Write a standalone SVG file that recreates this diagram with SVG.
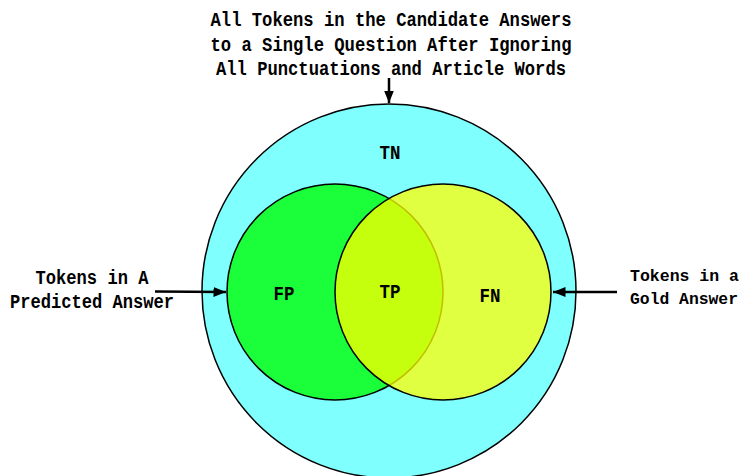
<svg xmlns="http://www.w3.org/2000/svg" width="745" height="476" viewBox="0 0 745 476">
<style>
text{font-family:"Liberation Mono","DejaVu Sans Mono",monospace;font-size:20px;font-weight:bold;fill:#000}
.r{font-size:17px}
.c{stroke:#000;stroke-width:1.5}
.l{stroke:#000;stroke-width:2.5;fill:none}
</style>
<defs>
<marker id="ah" viewBox="0 0 10 10" refX="10" refY="5" markerWidth="5" markerHeight="5" orient="auto" markerUnits="strokeWidth">
<path d="M0,1 L10,5 L0,9 Z" fill="#000"/>
</marker>
</defs>
<rect width="745" height="476" fill="#fff"/>
<g id="universe">
<circle class="c" cx="389" cy="291" r="187" fill="#80FFFF"/>
<text x="390" y="159" text-anchor="middle" textLength="21" lengthAdjust="spacingAndGlyphs">TN</text>
</g>
<g id="predicted">
<circle class="c" cx="335" cy="292" r="108" fill="#1AFF3A"/>
<text x="284" y="300" text-anchor="middle" textLength="21" lengthAdjust="spacingAndGlyphs">FP</text>
</g>
<g id="gold">
<circle class="c" cx="443" cy="292" r="108" fill="#FFFF00" fill-opacity="0.75"/>
<text x="490" y="302" text-anchor="middle" textLength="21" lengthAdjust="spacingAndGlyphs">FN</text>
</g>
<g id="intersection">
<text x="390" y="298" text-anchor="middle" textLength="21" lengthAdjust="spacingAndGlyphs">TP</text>
</g>
<g id="connectors">
<line class="l" x1="389" y1="78" x2="389" y2="103" marker-end="url(#ah)"/>
<line class="l" x1="155" y1="291.5" x2="226" y2="292" marker-end="url(#ah)"/>
<line class="l" x1="617" y1="292" x2="553" y2="292" marker-end="url(#ah)"/>
</g>
<g id="label-top">
<text x="391" y="26" text-anchor="middle" textLength="361" lengthAdjust="spacingAndGlyphs">All Tokens in the Candidate Answers</text>
<text x="391" y="51" text-anchor="middle" textLength="361" lengthAdjust="spacingAndGlyphs">to a Single Question After Ignoring</text>
<text x="391" y="75" text-anchor="middle" textLength="350" lengthAdjust="spacingAndGlyphs">All Punctuations and Article Words</text>
</g>
<g id="label-left">
<text x="92" y="284" text-anchor="middle" textLength="113" lengthAdjust="spacingAndGlyphs">Tokens in A</text>
<text x="92" y="308" text-anchor="middle" textLength="164" lengthAdjust="spacingAndGlyphs">Predicted Answer</text>
</g>
<g id="label-right">
<text class="r" x="630" y="281" textLength="109" lengthAdjust="spacingAndGlyphs">Tokens in a</text>
<text class="r" x="630" y="304" textLength="108" lengthAdjust="spacingAndGlyphs">Gold Answer</text>
</g>
</svg>
